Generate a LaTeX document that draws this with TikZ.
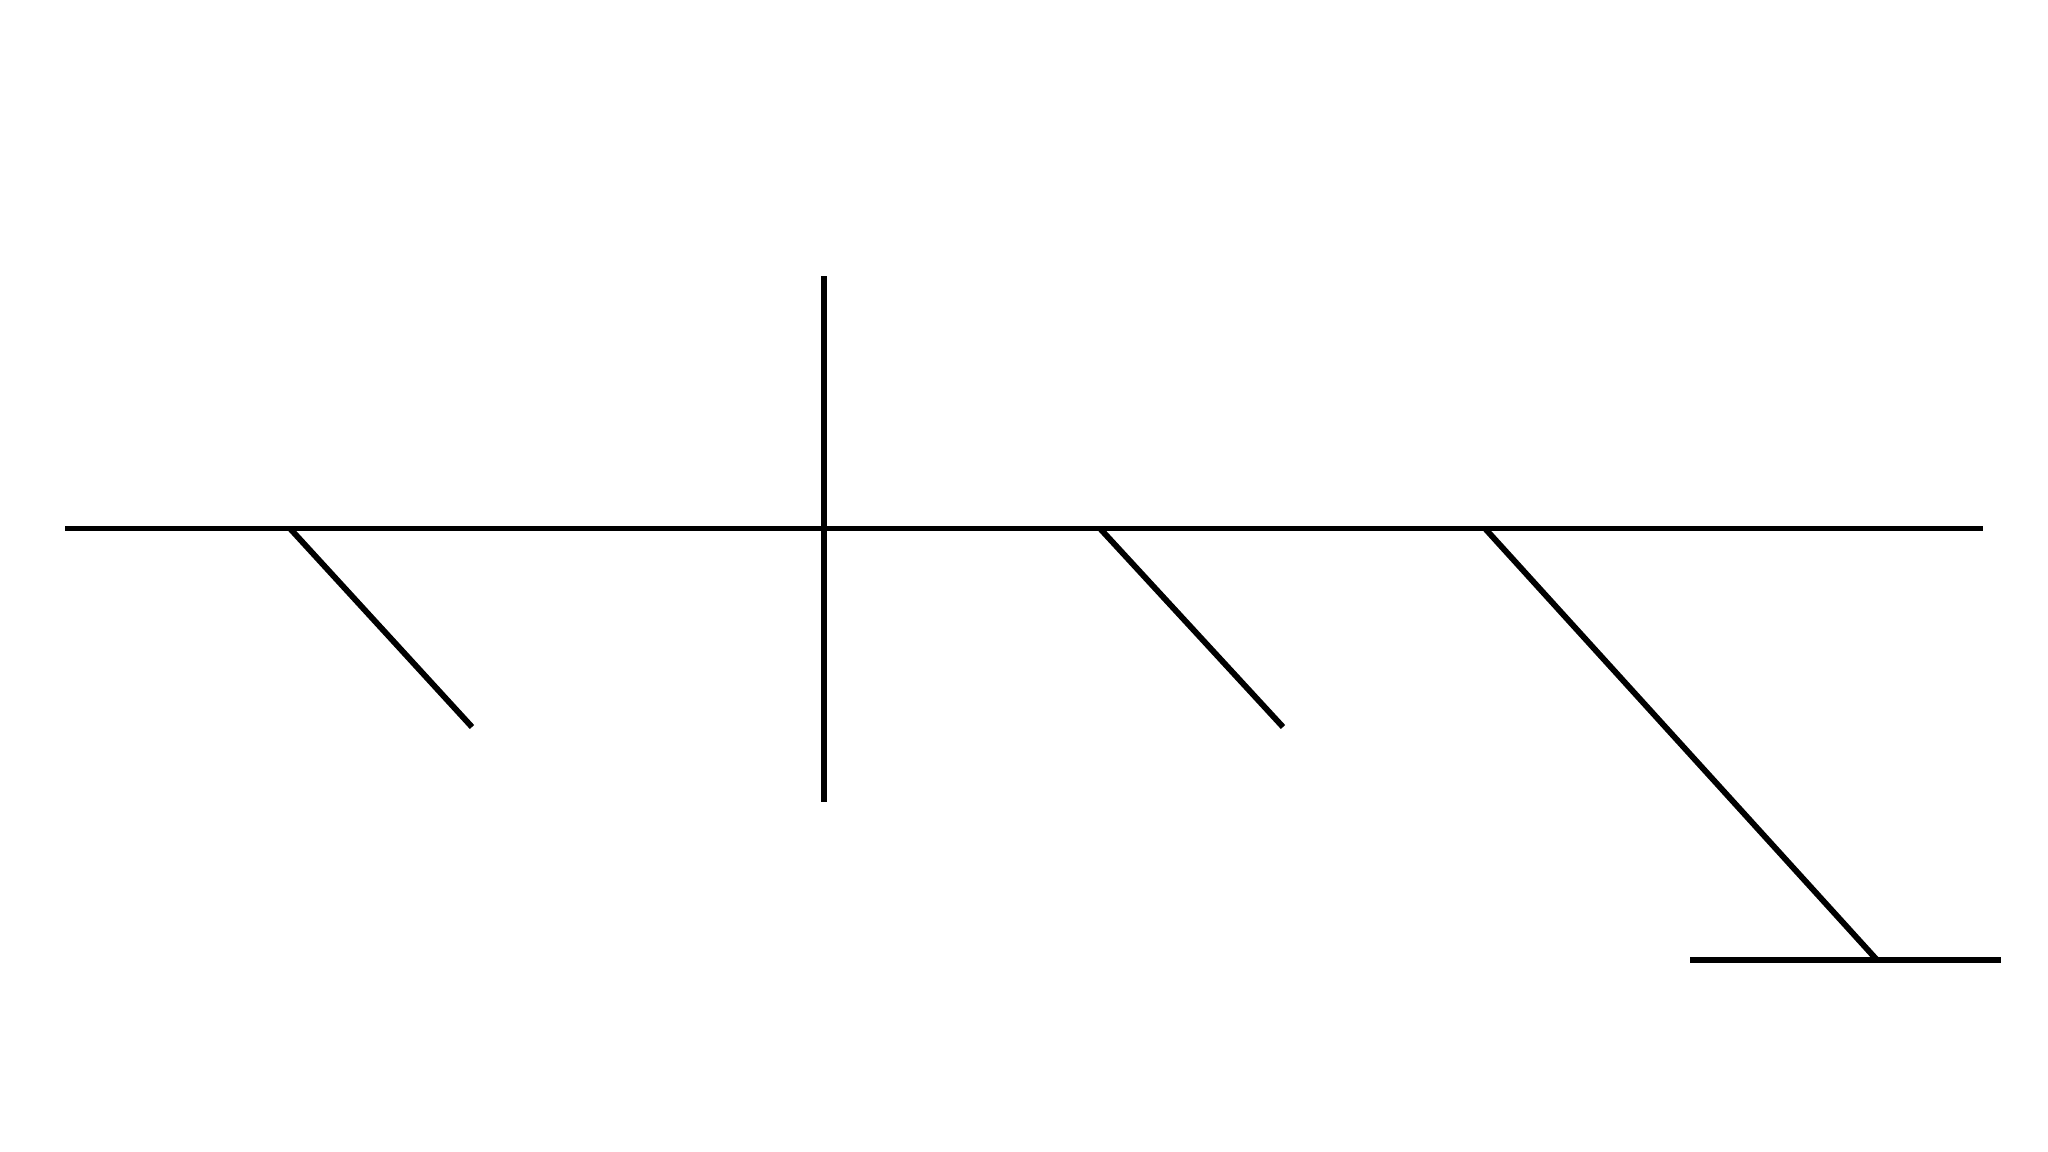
\documentclass[tikz,border=0pt]{standalone}
\usepackage{amsmath}
\usepackage{tikz}

\begin{document}
\begin{tikzpicture}[x=0.75pt,y=0.75pt,yscale=-1,xscale=1]
	\useasboundingbox (0,0) rectangle (2048,1152);
	\tikzset{bone/.style={draw=black,line width=4.4pt}}
	
	% Points on the spine
	\coordinate (spineL) at (65,528.5);
	\coordinate (spineR) at (1983,528.5);
	\coordinate (vertT) at (824,276);
	\coordinate (vertB) at (824,802);
	\coordinate (ribA) at (290,528.5);
	\coordinate (ribAend) at (472,727);
	\coordinate (ribB) at (1100,528.5);
	\coordinate (ribBend) at (1283,727);
	\coordinate (ribC) at (1485,528.5);
	\coordinate (ribCend) at (1877,960);
	\coordinate (footL) at (1690,960);
	\coordinate (footR) at (2001,960);
	
	%Straight Lines [spine]
	\draw [bone] (spineL) -- (spineR) ;
	%Straight Lines [vertical]
	\draw [bone] (vertT) -- (vertB) ;
	%Straight Lines [ribs]
	\draw [bone] (ribA) -- (ribAend) ;
	\draw [bone] (ribB) -- (ribBend) ;
	\draw [bone] (ribC) -- (ribCend) ;
	%Straight Lines [foot]
	\draw [bone] (footL) -- (footR) ;
	
\end{tikzpicture}
\end{document}
